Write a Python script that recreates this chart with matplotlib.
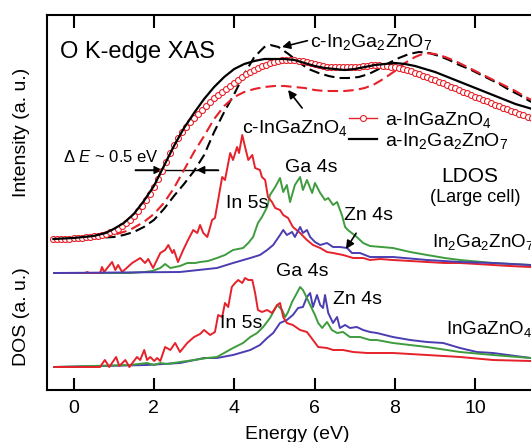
import numpy as np
import matplotlib.pyplot as plt

plt.rcParams['font.family'] = ['Liberation Sans', 'DejaVu Sans']
plt.rcParams['mathtext.fontset'] = 'custom'
plt.rcParams['mathtext.rm'] = 'Liberation Sans'
plt.rcParams['mathtext.it'] = 'Liberation Sans:italic'
plt.rcParams['mathtext.bf'] = 'Liberation Sans:bold'

RED = '#e6212a'
GREEN = '#3f9c3e'
BLUE = '#4a3db2'

# ---------- O K-edge XAS (intensity, a.u.) ----------
# a-InGaZnO4, sampled every 0.1 eV from -0.5 eV
xas_a1_E = np.round(np.arange(-0.5, 11.55, 0.1), 1)
xas_a1 = [0, 0, 0, 0.5, 0.5, 1, 1, 1.5, 2, 2.5,
          3, 3.5, 4.5, 5.5, 7, 8.5, 10.5, 13, 16, 19,
          23, 28, 33, 39, 45, 52, 60, 68, 77, 86,
          94, 101, 107, 112, 117, 121, 125, 129, 133, 137,
          141, 144, 147, 150, 153, 156, 159, 162, 165, 167,
          169, 171, 173, 174, 176, 177, 178, 179, 179, 179,
          179, 178, 178, 177, 176, 175, 174, 173, 172, 172,
          172, 172, 172, 172, 172, 172, 172, 173, 173, 174,
          174, 174, 173, 173, 172, 172, 171, 170, 169, 168,
          166, 165, 163, 162, 160, 159, 157, 156, 154, 152,
          151, 149, 147, 146, 144, 142, 141, 139, 138, 136,
          134, 133, 131, 130, 128, 127, 125, 124, 122, 121,
          119]

# a-In2Ga2ZnO7
xas_a2_E = [-0.5, 0.0, 0.5, 0.8, 1.0, 1.25, 1.5, 1.75, 2.0, 2.25, 2.5, 2.75, 3.0,
            3.25, 3.5, 3.75, 4.0, 4.25, 4.5, 4.75, 5.0, 5.25, 5.5, 5.75, 6.0,
            6.25, 6.5, 6.75, 7.0, 7.25, 7.5, 7.75, 8.0, 8.25, 8.5, 8.75, 9.0,
            9.25, 9.5, 9.75, 10.0, 10.25, 10.5, 10.75, 11.0, 11.25, 11.5]
xas_a2 = [0, 1, 3, 6, 10, 16, 25, 38, 53, 73, 93, 111, 126,
          140, 152, 162, 170, 175, 178, 180, 180, 180, 179, 176, 173,
          171, 170, 169, 170, 172, 174, 175, 176, 175, 173, 170, 167,
          163, 159, 155, 151, 147, 143, 139, 135, 132, 129]

# c-In2Ga2ZnO7
xas_c2_E = [0.4, 0.75, 1.0, 1.25, 1.5, 1.75, 2.0, 2.25, 2.5, 2.75, 3.0, 3.25,
            3.5, 3.75, 4.0, 4.25, 4.5, 4.75, 4.9, 5.1, 5.35, 5.6, 5.85, 6.1,
            6.35, 6.6, 6.85, 7.1, 7.35, 7.6, 7.85, 8.1, 8.35, 8.6, 8.85, 9.1,
            9.35, 9.6, 9.85, 10.1, 10.35, 10.6, 10.85, 11.1, 11.35, 11.6]
xas_c2 = [1, 1.5, 2, 4, 7, 12, 19, 30, 43, 55, 68, 84,
          107, 127, 145, 165, 182, 192, 194, 192, 185, 177, 170, 166,
          163, 161, 161, 162, 165, 170, 176, 181, 185, 187, 186, 183,
          179, 174, 170, 165, 160, 155, 149, 144, 138, 133]

# c-InGaZnO4
xas_c1_E = [0.3, 0.6, 1.0, 1.4, 1.75, 2.0, 2.25, 2.5, 2.75, 3.0, 3.25, 3.5,
            3.75, 4.0, 4.25, 4.5, 4.75, 5.0, 5.25, 5.5, 5.75, 6.0, 6.25, 6.5,
            6.75, 7.0, 7.25, 7.5, 7.75, 8.0, 8.25, 8.5, 8.75, 9.0, 9.25, 9.5,
            9.75, 10.0, 10.25, 10.5, 10.75, 11.0, 11.25, 11.5]
xas_c1 = [1, 2, 4, 9, 17, 25, 36, 51, 69, 87, 103, 120,
          133, 142, 147, 150, 152, 153, 153, 152, 151, 149, 148, 148,
          148, 149, 151, 155, 161, 168, 176, 182, 186, 185, 182, 178,
          173, 168, 163, 158, 153, 148, 142, 137]

# ---------- LDOS, In2Ga2ZnO7 (large cell) ----------
ldos_in_E = [-0.48, 0.29, 0.34, 0.39, 0.66, 0.71, 0.76, 0.96, 1.04, 1.11, 1.21,
             1.46, 1.58, 1.66, 1.78, 1.86, 1.98, 2.16, 2.28, 2.36, 2.46, 2.50,
             2.60, 2.73, 2.85, 2.98, 3.08, 3.15, 3.23, 3.33, 3.45, 3.52, 3.60,
             3.70, 3.77, 3.90, 3.97, 4.07, 4.12, 4.20, 4.27, 4.35, 4.45, 4.52,
             4.64, 4.69, 4.77, 4.84, 4.94, 5.02, 5.14, 5.22, 5.34, 5.46, 5.64,
             5.81, 5.96, 6.14, 6.31, 6.46, 6.71, 6.96, 7.21, 7.38, 7.63, 7.95,
             8.38, 8.80, 9.24, 9.62, 10.04, 10.44, 10.86, 11.38, 11.8]
ldos_in = [0, 0, 1, 0, 0, 6, 1, 11, 3, 8, 1,
           10, 13, 15, 10, 14, 5, 20, 23, 28, 20, 23,
           11, 23, 33, 43, 40, 48, 40, 36, 53, 55, 73,
           96, 93, 120, 113, 126, 120, 138, 126, 113, 118, 105,
           103, 96, 93, 76, 71, 65, 63, 58, 55, 46, 40,
           33, 28, 25, 21, 20, 18, 15, 15, 13, 14, 13,
           12, 11, 10, 10, 9, 8, 7, 6, 5]

ldos_ga_E = [-0.48, 1.41, 1.76, 1.96, 2.16, 2.28, 2.41, 2.65, 2.83, 3.03, 3.15,
             3.35, 3.57, 3.77, 3.97, 4.22, 4.35, 4.47, 4.59, 4.69, 4.82, 4.89,
             5.02, 5.14, 5.22, 5.31, 5.39, 5.51, 5.64, 5.71, 5.81, 5.94, 6.01,
             6.14, 6.26, 6.34, 6.46, 6.56, 6.68, 6.76, 6.83, 7.05, 7.21, 7.38,
             7.95, 8.38, 8.80, 9.24, 9.62, 10.44, 11.38, 11.8]
ldos_ga = [0, 0, 1, 2, 5, 9, 5, 7, 10, 10, 11,
           12, 15, 18, 23, 25, 30, 36, 50, 56, 66, 78,
           86, 95, 81, 88, 71, 88, 96, 83, 93, 80, 90,
           80, 73, 75, 68, 71, 58, 46, 43, 36, 30, 27,
           25, 21, 18, 15, 13, 10, 8, 7]

ldos_zn_E = [-0.48, 2.65, 3.57, 3.97, 4.40, 4.64, 4.82, 4.97, 5.14, 5.22, 5.31,
             5.44, 5.51, 5.64, 5.71, 5.81, 5.89, 6.01, 6.14, 6.31, 6.46, 6.63,
             6.81, 6.93, 7.13, 7.38, 7.95, 8.80, 9.62, 10.44, 11.38, 11.8]
ldos_zn = [0, 1, 5, 10, 15, 18, 23, 28, 38, 43, 38,
           41, 36, 46, 40, 43, 36, 31, 28, 30, 26, 26,
           25, 20, 20, 16, 16, 13, 11, 10, 8, 7]

# ---------- DOS, InGaZnO4 ----------
dos_in_E = [-0.48, 0.66, 0.78, 0.89, 1.06, 1.14, 1.29, 1.39, 1.58, 1.66, 1.76,
            1.83, 1.91, 2.01, 2.08, 2.16, 2.28, 2.41, 2.53, 2.65, 2.83, 3.00,
            3.15, 3.25, 3.40, 3.52, 3.60, 3.70, 3.77, 3.85, 3.94, 4.02, 4.10,
            4.20, 4.27, 4.35, 4.45, 4.52, 4.59, 4.69, 4.82, 4.94, 5.07, 5.14,
            5.22, 5.31, 5.46, 5.64, 5.81, 5.96, 6.09, 6.31, 6.46, 6.71, 6.96,
            7.31, 7.95, 8.80, 9.62, 10.44, 11.38, 11.8]
dos_in = [0, 0, 7, 0, 10, 1, 7, 0, 10, 7, 17,
          7, 10, 6, 9, 6, 20, 17, 24, 15, 24, 30,
          33, 37, 32, 35, 52, 50, 64, 60, 80, 84, 87,
          84, 89, 87, 87, 74, 57, 55, 57, 54, 62, 64,
          50, 44, 42, 37, 35, 27, 20, 19, 17, 17, 15,
          14, 14, 12, 10, 7, 6, 5]

dos_ga_E = [-0.48, 1.41, 1.83, 2.01, 2.16, 2.33, 2.65, 3.00, 3.33, 3.57, 3.97,
            4.22, 4.40, 4.57, 4.72, 4.89, 5.07, 5.19, 5.27, 5.34, 5.44, 5.56,
            5.64, 5.71, 5.81, 5.89, 6.01, 6.09, 6.19, 6.31, 6.43, 6.56, 6.71,
            6.88, 7.13, 7.38, 7.55, 7.95, 8.80, 9.62, 10.44, 11.38, 11.8]
dos_ga = [0, 2, 4, 2, 4, 3, 5, 7, 9, 10, 19,
          24, 30, 34, 40, 49, 62, 57, 50, 55, 65, 74,
          80, 77, 69, 62, 52, 44, 39, 45, 37, 34, 35,
          30, 30, 27, 27, 24, 20, 15, 12, 9, 8]

dos_zn_E = [-0.48, 1.83, 2.65, 3.25, 3.57, 3.97, 4.40, 4.64, 4.82, 4.97, 5.14,
            5.31, 5.46, 5.59, 5.71, 5.81, 5.89, 5.96, 6.06, 6.14, 6.21, 6.26,
            6.34, 6.46, 6.56, 6.63, 6.76, 6.88, 7.05, 7.21, 7.38, 7.55, 7.95,
            8.38, 8.80, 9.20, 9.62, 10.04, 10.44, 11.38, 11.8]
dos_zn = [0, 2, 4, 9, 9, 12, 17, 22, 29, 34, 44,
          47, 52, 59, 60, 70, 74, 60, 72, 62, 59, 72,
          54, 44, 50, 39, 42, 39, 40, 37, 35, 34, 30,
          27, 25, 24, 19, 15, 14, 9, 8]

# vertical offsets of the three stacked blocks
off_xas, off_ldos, off_dos = 151, 117, 23

fig = plt.figure(figsize=(5.31, 4.42), dpi=100)
ax = fig.add_axes([47 / 531, 52 / 442, 501 / 531, 375 / 442])

dash = (0, (5, 2.5))
ax.plot(xas_c2_E, np.array(xas_c2) + off_xas, color='black', lw=1.5, ls=dash, zorder=3)
ax.plot(xas_c1_E, np.array(xas_c1) + off_xas, color=RED, lw=1.5, ls=dash, zorder=3)
l_a1, = ax.plot(xas_a1_E, np.array(xas_a1) + off_xas, color=RED, lw=1.0, marker='o',
                ms=4.3, mfc='white', mec=RED, mew=0.8, zorder=4, label='a-InGaZnO$_4$')
l_a2, = ax.plot(xas_a2_E, np.array(xas_a2) + off_xas, color='black', lw=1.6, zorder=5,
                label='a-In$_2$Ga$_2$ZnO$_7$')

ax.plot(ldos_ga_E, np.array(ldos_ga) + off_ldos, color=GREEN, lw=1.4, zorder=2)
ax.plot(ldos_in_E, np.array(ldos_in) + off_ldos, color=RED, lw=1.4, zorder=2)
ax.plot(ldos_zn_E, np.array(ldos_zn) + off_ldos, color=BLUE, lw=1.4, zorder=2)

ax.plot(dos_zn_E, np.array(dos_zn) + off_dos, color=BLUE, lw=1.4, zorder=2)
ax.plot(dos_ga_E, np.array(dos_ga) + off_dos, color=GREEN, lw=1.4, zorder=2)
ax.plot(dos_in_E, np.array(dos_in) + off_dos, color=RED, lw=1.4, zorder=2)

ax.set_xlim(-0.66, 11.81)
ax.set_ylim(0, 375)
ax.set_xticks([0, 2, 4, 6, 8, 10])
ax.set_yticks([])
ax.tick_params(axis='x', direction='in', top=True, length=9, width=1.5,
               labelsize=14, pad=7)
for s in ax.spines.values():
    s.set_linewidth(1.5)
ax.set_xlabel('Energy (eV)', fontsize=14, labelpad=7)

fig.text(22 / 531, 1 - 132 / 442, 'Intensity (a. u.)', rotation=90, fontsize=14,
         ha='center', va='center')
fig.text(22 / 531, 1 - 317 / 442, 'DOS (a. u.)', rotation=90, fontsize=14,
         ha='center', va='center')

# annotations
ax.text(-0.33, 338, 'O K-edge XAS', fontsize=17, ha='left', va='center')
ax.annotate('c-In$_2$Ga$_2$ZnO$_7$', xy=(5.19, 343), xytext=(5.89, 343), fontsize=14,
            ha='left', va='baseline',
            arrowprops=dict(arrowstyle='-|>', color='black', lw=1.2, mutation_scale=12,
                            shrinkA=0, shrinkB=0, relpos=(0, 0.6)))
ax.text(4.2, 257, 'c-InGaZnO$_4$', fontsize=14, ha='left', va='baseline')
ax.annotate('', xy=(5.34, 300), xytext=(5.69, 282),
            arrowprops=dict(arrowstyle='-|>', color='black', lw=1.2, mutation_scale=12,
                            shrinkA=0, shrinkB=0))

# Delta E marker
ax.plot([1.54, 3.6], [220, 220], color='black', lw=1.0)
ax.annotate('', xy=(2.21, 220), xytext=(1.54, 220),
            arrowprops=dict(arrowstyle='-|>', color='black', lw=1.0, mutation_scale=12,
                            shrinkA=0, shrinkB=0))
ax.annotate('', xy=(3.06, 220), xytext=(3.6, 220),
            arrowprops=dict(arrowstyle='-|>', color='black', lw=1.0, mutation_scale=12,
                            shrinkA=0, shrinkB=0))
ax.text(-0.25, 233, r'$\mathit{\Delta\ E}$ ~ 0.5 eV', fontsize=12, ha='left', va='center')

ax.legend(handles=[l_a1, l_a2], loc='upper left', bbox_to_anchor=(302 / 501, 1 - 95 / 375),
          frameon=False, fontsize=14, handlelength=1.45, handletextpad=0.4,
          labelspacing=0.05, borderpad=0, borderaxespad=0, numpoints=1)

ax.text(9.87, 213, 'LDOS', fontsize=15, ha='center', va='center')
ax.text(9.99, 192, '(Large cell)', fontsize=13, ha='center', va='center')

ax.text(5.91, 223, 'Ga 4s', fontsize=14, ha='center', va='center')
ax.text(4.32, 187, 'In 5s', fontsize=14, ha='center', va='center')
ax.annotate('Zn 4s', xy=(6.78, 141), xytext=(7.33, 175), fontsize=14,
            ha='center', va='center',
            arrowprops=dict(arrowstyle='-|>', color='black', lw=1.2, mutation_scale=12,
                            shrinkA=6, shrinkB=0))
ax.text(8.92, 143, 'In$_2$Ga$_2$ZnO$_7$', fontsize=13.5, ha='left', va='baseline')

ax.text(5.69, 118, 'Ga 4s', fontsize=14, ha='center', va='center')
ax.text(7.08, 90, 'Zn 4s', fontsize=14, ha='center', va='center')
ax.text(4.17, 67, 'In 5s', fontsize=14, ha='center', va='center')
ax.text(9.28, 56, 'InGaZnO$_4$', fontsize=13.5, ha='left', va='baseline')

fig.savefig('out.png', dpi=100)
